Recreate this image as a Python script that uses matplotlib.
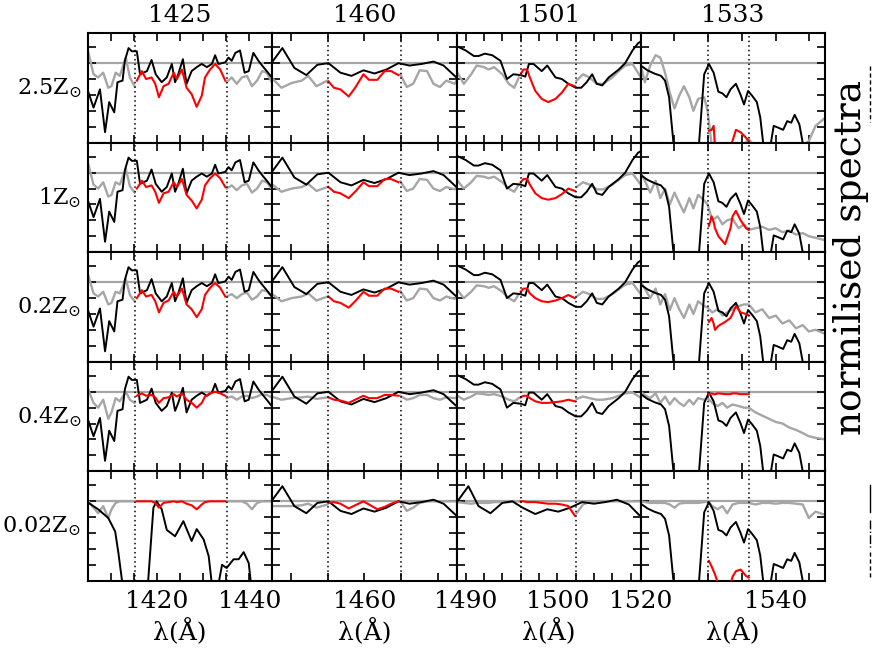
import numpy as np
import matplotlib
matplotlib.use('Agg')
import matplotlib.pyplot as plt
from matplotlib.lines import Line2D

nan = np.nan

col_titles = ['1425', '1460', '1501', '1533']
row_labels = [r'2.5Z$_{\odot}$', r'1Z$_{\odot}$', r'0.2Z$_{\odot}$', r'0.4Z$_{\odot}$', r'0.02Z$_{\odot}$']
xlims = [(1405, 1445), (1450, 1470), (1489, 1509.1), (1520, 1547.3)]
windows = [(1415.2, 1435.2), (1456, 1464), (1496, 1502), (1530, 1536)]
xtick_pos = [[1410, 1415, 1420, 1425, 1430, 1435, 1440],
             [1452, 1456, 1460, 1464, 1468],
             [1490, 1492, 1494, 1496, 1498, 1500, 1502, 1504, 1506, 1508],
             [1520, 1525, 1530, 1535, 1540, 1545]]
xtick_lab = [[1420, 1440], [1460], [1490, 1500], [1520, 1540]]
ytick_pos = [0.2, 0.4, 0.6, 0.8, 1.0, 1.2]

# ---------------- column 1 : 1425 ----------------
obs_x_1425 = [1405.1, 1406.2, 1407.6, 1408.7, 1409.6, 1410.7, 1411.4, 1412.5, 1413.0, 1413.8, 1414.5,
              1415.6, 1416.3, 1417.8, 1418.8, 1419.7, 1421.0, 1422.1, 1423.2, 1423.9, 1424.6, 1425.6,
              1426.4, 1427.5, 1428.6, 1429.7, 1430.8, 1431.9, 1432.6, 1433.3, 1434.8, 1435.5, 1436.2,
              1437.0, 1438.0, 1439.0, 1439.9, 1440.9, 1442.0, 1442.8, 1443.8, 1444.9]
obs_y_1425 = [0.63, 0.44, 0.67, 0.13, 0.51, 0.38, 0.76, 0.78, 1.03, 1.19, 1.15,
              1.15, 0.86, 0.90, 1.04, 0.86, 0.76, 0.82, 0.99, 0.76, 0.86, 1.05,
              0.74, 0.90, 0.95, 0.99, 0.95, 0.99, 1.10, 0.99, 1.01, 1.07, 1.03,
              1.13, 1.16, 0.88, 0.90, 1.13, 1.03, 0.97, 0.90, 0.82]
obs_x_1425_low = [1405.1, 1407.2, 1409.4, 1410.9, 1411.6, 1412.5, 1418.0, 1419.2, 1419.9, 1421.0, 1422.1,
                  1423.9, 1425.7, 1427.5, 1428.6, 1430.1, 1431.2, 1431.9, 1433.3, 1434.1, 1435.1, 1436.6,
                  1437.7, 1438.8, 1439.9, 1440.4, 1445.0]
obs_y_1425_low = [0.98, 0.90, 0.79, 0.62, 0.35, -0.05, -0.05, 0.92, 1.0, 0.90, 0.64,
                  0.56, 0.75, 0.50, 0.65, 0.52, 0.31, -0.05, -0.05, 0.20, 0.16, 0.27,
                  0.27, 0.36, 0.22, -0.05, -0.05]
gray_x_1425 = [1405.1, 1406.2, 1407.2, 1408.3, 1409.4, 1410.1, 1411.0, 1411.9, 1413.2, 1414.1, 1415.1, 1425.0,
               1435.1, 1436.2, 1437.3, 1438.4, 1439.5, 1440.6, 1441.7, 1442.8, 1443.8, 1444.9]
gray_y_1425 = [
    [1.13, 0.86, 0.82, 0.88, 0.69, 0.71, 0.88, 0.84, 1.07, 0.82, 0.71, nan, 0.76, 0.82, 0.74, 0.82, 0.84, 0.71, 0.78, 0.90, 0.88, 0.76],
    [1.10, 0.85, 0.80, 0.88, 0.70, 0.72, 0.88, 0.85, 1.05, 0.83, 0.75, nan, 0.80, 0.84, 0.78, 0.84, 0.86, 0.75, 0.80, 0.90, 0.88, 0.80],
    [1.08, 0.86, 0.82, 0.88, 0.72, 0.74, 0.88, 0.86, 1.04, 0.84, 0.76, nan, 0.82, 0.85, 0.80, 0.85, 0.87, 0.78, 0.82, 0.90, 0.89, 0.82],
    [1.02, 0.86, 0.80, 0.90, 0.66, 0.74, 0.92, 0.88, 1.00, 0.90, 0.86, nan, 0.92, 0.94, 0.90, 0.94, 0.95, 0.92, 0.94, 0.97, 0.96, 0.93],
    [1.00, 0.92, 0.85, 0.94, 0.79, 0.90, 0.98, 1.00, 1.00, 1.00, 1.00, nan, 1.00, 1.00, 1.00, 1.00, 0.97, 0.90, 0.98, 1.00, 1.00, 1.00],
]
red_x_1425 = [1415.6, 1416.7, 1417.6, 1418.8, 1419.6, 1420.4, 1421.4, 1422.5, 1423.6, 1424.3, 1425.4,
              1426.4, 1427.5, 1428.6, 1429.7, 1430.4, 1431.5, 1432.6, 1433.7, 1434.8]
red_y_1425 = [
    [0.78, 0.90, 0.80, 0.82, 0.74, 0.57, 0.71, 0.74, 0.88, 0.80, 0.92, 0.69, 0.61, 0.45, 0.59, 0.82, 0.92, 0.99, 0.92, 0.78],
    [0.80, 0.90, 0.82, 0.84, 0.76, 0.62, 0.74, 0.76, 0.88, 0.82, 0.92, 0.72, 0.65, 0.55, 0.66, 0.84, 0.93, 0.99, 0.93, 0.82],
    [0.80, 0.90, 0.82, 0.84, 0.76, 0.62, 0.74, 0.77, 0.88, 0.82, 0.92, 0.72, 0.66, 0.56, 0.66, 0.84, 0.93, 0.99, 0.93, 0.82],
    [0.95, 0.98, 0.95, 0.96, 0.93, 0.86, 0.92, 0.93, 0.97, 0.94, 0.98, 0.90, 0.86, 0.80, 0.86, 0.94, 0.98, 1.00, 0.98, 0.95],
    [1.00, 1.00, 1.00, 1.00, 0.98, 0.92, 0.98, 0.99, 1.00, 0.99, 1.00, 0.97, 0.95, 0.90, 0.96, 0.99, 1.00, 1.00, 1.00, 1.00],
]

# ---------------- column 2 : 1460 ----------------
obs_x_1460 = [1449.9, 1451.1, 1452.4, 1453.7, 1454.9, 1456.1, 1457.4, 1458.6, 1459.9, 1461.1, 1462.4,
              1463.7, 1464.9, 1466.2, 1467.5, 1468.6, 1469.8, 1470.1]
obs_y_1460 = [1.0, 1.19, 0.94, 0.85, 0.98, 1.0, 0.88, 0.84, 0.91, 0.87, 0.92,
              1.0, 0.97, 0.99, 1.02, 0.97, 0.84, 0.81]
gray_x_1460 = [1449.9, 1451.0, 1452.1, 1453.2, 1453.9, 1454.8, 1456.0, 1460.0,
               1463.9, 1464.6, 1465.3, 1466.0, 1466.8, 1467.5, 1468.2, 1468.9, 1469.8, 1470.1]
gray_y_1460 = [
    [0.82, 0.69, 0.75, 0.78, 0.84, 0.71, 0.78, nan, 0.86, 0.70, 0.74, 0.91, 0.90, 0.74, 0.70, 0.78, 0.74, 0.80],
    [0.86, 0.76, 0.80, 0.82, 0.86, 0.77, 0.82, nan, 0.89, 0.77, 0.80, 0.92, 0.91, 0.80, 0.77, 0.82, 0.79, 0.83],
    [0.86, 0.76, 0.80, 0.82, 0.86, 0.77, 0.82, nan, 0.89, 0.77, 0.80, 0.92, 0.91, 0.80, 0.77, 0.82, 0.79, 0.83],
    [0.94, 0.90, 0.92, 0.93, 0.94, 0.91, 0.93, nan, 0.95, 0.90, 0.92, 0.96, 0.96, 0.92, 0.90, 0.93, 0.92, 0.93],
    [0.94, 0.94, 0.94, 0.95, 0.97, 0.92, 0.96, nan, 1.00, 0.88, 0.92, 0.98, 1.00, 1.00, 1.00, 1.00, 1.00, 1.00],
]
red_x_1460 = [1456.1, 1456.7, 1457.4, 1458.3, 1459.0, 1459.9, 1460.5, 1461.4, 1462.2, 1462.9, 1463.7]
red_y_1460 = [
    [0.77, 0.69, 0.67, 0.58, 0.69, 0.86, 0.79, 0.79, 0.90, 0.90, 0.85],
    [0.82, 0.76, 0.74, 0.68, 0.76, 0.88, 0.83, 0.83, 0.92, 0.92, 0.88],
    [0.82, 0.76, 0.74, 0.68, 0.76, 0.88, 0.83, 0.83, 0.92, 0.92, 0.88],
    [0.93, 0.90, 0.89, 0.86, 0.90, 0.95, 0.92, 0.92, 0.96, 0.96, 0.95],
    [0.98, 0.99, 0.97, 0.91, 0.95, 1.00, 0.96, 0.90, 0.93, 0.97, 1.00],
]

# ---------------- column 3 : 1501 ----------------
obs_x_1501 = [1489.1, 1490.0, 1490.9, 1491.4, 1492.1, 1492.9, 1493.8, 1494.5, 1495.2, 1496.0, 1496.5,
              1496.9, 1497.4, 1498.3, 1498.9, 1499.8, 1500.5, 1501.2, 1502.0, 1502.6, 1503.2, 1503.8,
              1504.3, 1504.9, 1505.6, 1506.7, 1507.4, 1508.2, 1508.8, 1509.2]
obs_y_1501 = [1.21, 1.16, 1.09, 1.09, 1.12, 1.10, 1.03, 0.80, 0.86, 0.85, 0.83,
              0.99, 0.99, 0.90, 0.97, 0.82, 0.80, 0.74, 0.69, 0.69, 0.76, 0.86,
              0.74, 0.72, 0.82, 0.92, 1.00, 1.16, 1.25, 1.28]
obs_x_1501_low = [1489.1, 1490.3, 1491.4, 1492.7, 1494.0, 1495.1, 1496.2, 1497.6, 1498.9, 1500.1,
                  1501.4, 1502.7, 1504.0, 1505.2, 1506.5, 1507.8, 1508.9, 1509.2]
obs_y_1501_low = [1.0, 1.19, 0.94, 0.85, 0.98, 1.0, 0.92, 0.84, 0.90, 0.87,
                  0.92, 0.99, 0.97, 0.99, 1.02, 0.96, 0.83, 0.81]
gray_x_1501 = [1489.1, 1489.8, 1490.6, 1491.2, 1492.0, 1492.5, 1493.1, 1494.0, 1494.7, 1495.3, 1495.8, 1499.0,
               1502.1, 1502.8, 1503.5, 1504.3, 1505.0, 1506.0, 1506.7, 1507.4, 1508.2, 1508.9, 1509.2]
gray_y_1501 = [
    [0.88, 0.74, 0.86, 0.97, 0.95, 0.92, 0.95, 0.86, 0.74, 0.69, 0.82, nan, 0.78, 0.86, 0.82, 0.74, 0.74, 0.82, 0.90, 0.97, 0.99, 0.86, 0.80],
    [0.90, 0.80, 0.88, 0.96, 0.95, 0.93, 0.95, 0.88, 0.80, 0.76, 0.85, nan, 0.82, 0.88, 0.85, 0.79, 0.79, 0.85, 0.91, 0.97, 0.99, 0.88, 0.84],
    [0.90, 0.80, 0.88, 0.96, 0.95, 0.93, 0.95, 0.88, 0.80, 0.76, 0.85, nan, 0.82, 0.88, 0.85, 0.79, 0.79, 0.85, 0.91, 0.97, 0.99, 0.88, 0.84],
    [0.95, 0.90, 0.94, 0.98, 0.97, 0.96, 0.97, 0.94, 0.90, 0.88, 0.92, nan, 0.91, 0.94, 0.92, 0.90, 0.90, 0.92, 0.95, 0.98, 0.99, 0.94, 0.92],
    [0.99, 0.98, 0.97, 0.98, 0.98, 0.98, 0.99, 0.99, 0.99, 1.00, 1.00, nan, 0.85, 0.96, 0.99, 1.00, 1.00, 1.00, 1.00, 1.00, 1.00, 1.00, 1.00],
]
red_x_1501 = [1496.0, 1496.3, 1496.7, 1497.0, 1497.6, 1498.3, 1499.0, 1499.8, 1500.5, 1501.2, 1501.9]
red_y_1501 = [
    [0.86, 0.92, 0.92, 0.82, 0.65, 0.55, 0.51, 0.55, 0.63, 0.74, 0.71],
    [0.88, 0.92, 0.92, 0.85, 0.74, 0.68, 0.66, 0.68, 0.73, 0.80, 0.77],
    [0.88, 0.92, 0.92, 0.86, 0.80, 0.76, 0.75, 0.77, 0.80, 0.84, 0.80],
    [0.93, 0.95, 0.95, 0.92, 0.88, 0.86, 0.86, 0.87, 0.88, 0.90, 0.88],
    [1.00, 1.00, 0.99, 0.99, 0.99, 0.98, 0.97, 0.97, 0.96, 0.94, 0.82],
]

# ---------------- column 4 : 1533 ----------------
obs_x_1533 = [1520.0, 1521.0, 1522.0, 1523.0, 1523.6, 1524.2, 1524.9, 1528.6, 1529.4, 1530.1, 1530.8,
              1531.5, 1532.1, 1532.7, 1533.3, 1534.1, 1534.8, 1535.3, 1535.9, 1536.5, 1537.2, 1537.7,
              1538.2, 1539.2, 1539.7, 1540.3, 1541.1, 1541.7, 1542.3, 1542.8, 1543.5, 1544.1, 1547.3]
obs_y_1533 = [0.97, 0.91, 0.87, 0.84, 0.78, 0.57, -0.05, -0.05, 0.86, 0.99, 0.88,
              0.64, 0.62, 0.57, 0.67, 0.74, 0.60, 0.48, 0.65, 0.59, 0.51, 0.32,
              -0.05, -0.05, 0.21, 0.19, 0.16, 0.27, 0.25, 0.35, 0.23, -0.05, -0.05]
gray_x_1533 = [1520.0, 1520.6, 1521.4, 1522.2, 1522.9, 1523.6, 1524.3, 1525.0, 1525.7, 1526.4, 1527.2,
               1527.8, 1528.5, 1529.4, 1529.9, 1530.6, 1531.4, 1532.1, 1532.8, 1533.6, 1534.5, 1535.3,
               1536.0, 1537.0, 1538.0, 1539.0, 1540.0, 1541.0, 1542.0, 1543.0, 1544.0, 1544.9, 1545.9, 1547.3]
gray_y_1533 = [
    [0.97, 0.76, 0.97, 1.10, 1.07, 0.88, 0.63, 0.43, 0.59, 0.71, 0.57, 0.40, 0.55, 0.57, 0.40, -0.10, -0.10,
     -0.10, -0.10, -0.10, -0.05, -0.02, 0.04, -0.05, -0.10, -0.10, -0.10, -0.10, -0.10, -0.10, -0.05, 0.02, 0.21, 0.31],
    [1.00, 0.90, 0.75, 0.90, 0.68, 0.80, 0.60, 0.75, 0.62, 0.50, 0.68, 0.55, 0.72, 0.65, 0.60, 0.40, 0.45,
     0.35, 0.40, 0.42, 0.30, 0.35, 0.28, 0.30, 0.32, 0.28, 0.30, 0.25, 0.27, 0.22, 0.24, 0.20, 0.18, 0.15],
    [1.00, 0.92, 0.80, 0.92, 0.72, 0.85, 0.65, 0.80, 0.66, 0.55, 0.72, 0.60, 0.76, 0.70, 0.68, 0.62, 0.66,
     0.58, 0.62, 0.66, 0.70, 0.72, 0.72, 0.62, 0.66, 0.55, 0.58, 0.48, 0.52, 0.42, 0.46, 0.38, 0.40, 0.35],
    [1.00, 0.96, 0.92, 0.98, 0.86, 0.94, 0.84, 0.92, 0.86, 0.82, 0.90, 0.84, 0.92, 0.90, 0.92, 0.86, 0.82,
     0.86, 0.80, 0.84, 0.82, 0.80, 0.80, 0.74, 0.70, 0.66, 0.62, 0.60, 0.55, 0.52, 0.48, 0.44, 0.42, 0.40],
    [1.00, 0.99, 0.98, 0.98, 0.98, 0.98, 0.96, 0.92, 0.97, 0.98, 0.98, 0.98, 0.98, 0.99, 1.00, 0.94, 0.90,
     0.94, 0.85, 0.96, 0.98, 0.98, 0.98, 0.96, 0.98, 0.98, 0.97, 0.98, 0.98, 0.97, 0.96, 0.79, 0.87, 0.83],
]
red_x_1533 = [1530.1, 1530.5, 1530.8, 1531.0, 1531.5, 1532.5, 1533.3, 1533.6, 1534.1, 1534.8, 1535.6, 1536.0]
red_y_1533 = [
    [0.15, 0.16, 0.21, -0.05, -0.10, -0.10, -0.05, 0.02, 0.16, 0.13, 0.06, 0.02],
    [0.33, 0.45, 0.38, 0.30, 0.20, 0.10, 0.30, 0.45, 0.52, 0.40, 0.30, 0.28],
    [0.50, 0.55, 0.48, 0.40, 0.45, 0.50, 0.55, 0.60, 0.70, 0.62, 0.60, 0.58],
    [0.97, 0.98, 0.97, 0.97, 0.98, 0.97, 0.97, 0.98, 0.98, 0.97, 0.97, 0.97],
    [0.25, 0.18, 0.12, 0.08, -0.05, -0.10, -0.05, 0.05, 0.12, 0.14, 0.06, 0.04],
]

obs_cols = [(obs_x_1425, obs_y_1425), (obs_x_1460, obs_y_1460), (obs_x_1501, obs_y_1501), (obs_x_1533, obs_y_1533)]
obs_low = [(obs_x_1425_low, obs_y_1425_low), (obs_x_1460, obs_y_1460), (obs_x_1501_low, obs_y_1501_low),
           (obs_x_1533, obs_y_1533)]
gray_cols = [(gray_x_1425, gray_y_1425), (gray_x_1460, gray_y_1460), (gray_x_1501, gray_y_1501),
             (gray_x_1533, gray_y_1533)]
red_cols = [(red_x_1425, red_y_1425), (red_x_1460, red_y_1460), (red_x_1501, red_y_1501),
            (red_x_1533, red_y_1533)]

# ---------------- figure ----------------
plt.rcParams['font.family'] = ['DejaVu Serif']
plt.rcParams['mathtext.fontset'] = 'dejavuserif'
W, H = 875, 654
fig = plt.figure(figsize=(W / 100, H / 100), dpi=100)

L, R, T, B = 88, 825, 33, 580.7
cw = (R - L) / 4
rh = (B - T) / 5
GRAY = '#a6a6a6'
FS = 18

for r in range(5):
    for c in range(4):
        x0 = L + c * cw
        y0 = T + r * rh
        ax = fig.add_axes([x0 / W, 1 - (y0 + rh) / H, cw / W, rh / H])
        ax.set_xlim(*xlims[c])
        ax.set_ylim(0, 1.38)
        ax.axhline(1.0, color=GRAY, lw=1.6, zorder=1)
        gx, gys = gray_cols[c]
        ax.plot(gx, gys[r], color=GRAY, lw=1.7, zorder=2)
        ox, oy = obs_low[c] if r == 4 else obs_cols[c]
        ax.plot(ox, oy, color='black', lw=1.4, zorder=3)
        rx, rys = red_cols[c]
        ax.plot(rx, rys[r], color='#ff0000', lw=1.5, zorder=4)
        for w in windows[c]:
            ax.axvline(w, color='black', lw=1.1, ls=(0, (1, 2)), zorder=5)
        ax.set_yticks(ytick_pos)
        ax.set_yticklabels([])
        ax.set_xticks(xtick_pos[c])
        if r == 4:
            ax.set_xticklabels([str(v) if v in xtick_lab[c] else '' for v in xtick_pos[c]])
        else:
            ax.set_xticklabels([])
        ax.tick_params(direction='in', top=True, right=True, length=6, width=1.2,
                       labelsize=FS, pad=7)
        for s in ax.spines.values():
            s.set_linewidth(1.5)
        if r == 0:
            fig.text((x0 + cw / 2) / W, 1 - 16 / H, col_titles[c], ha='center', va='center', fontsize=FS)
        if r == 4:
            fig.text((x0 + cw / 2) / W, 1 - 632 / H, 'λ(Å)', ha='center', va='center', fontsize=FS)
    fig.text(81 / W, 1 - (T + (r + 0.5) * rh) / H, row_labels[r], ha='right', va='center', fontsize=16)

fig.text(851 / W, 1 - 257 / H, 'normilised spectra', rotation=90, ha='center', va='center', fontsize=27)

# little line-style samples at right margin
fig.add_artist(Line2D([870 / W] * 2, [1 - 66 / H, 1 - 122 / H], color='black', lw=1.0, ls=(0, (3, 2))))
fig.add_artist(Line2D([870 / W] * 2, [1 - 485 / H, 1 - 512 / H], color='black', lw=1.0))
fig.add_artist(Line2D([870 / W] * 2, [1 - 520 / H, 1 - 548 / H], color='black', lw=1.0, ls='-.'))
fig.add_artist(Line2D([870 / W] * 2, [1 - 552 / H, 1 - 578 / H], color='black', lw=1.0, ls=(0, (3, 2))))

fig.savefig('out.png', dpi=100)
